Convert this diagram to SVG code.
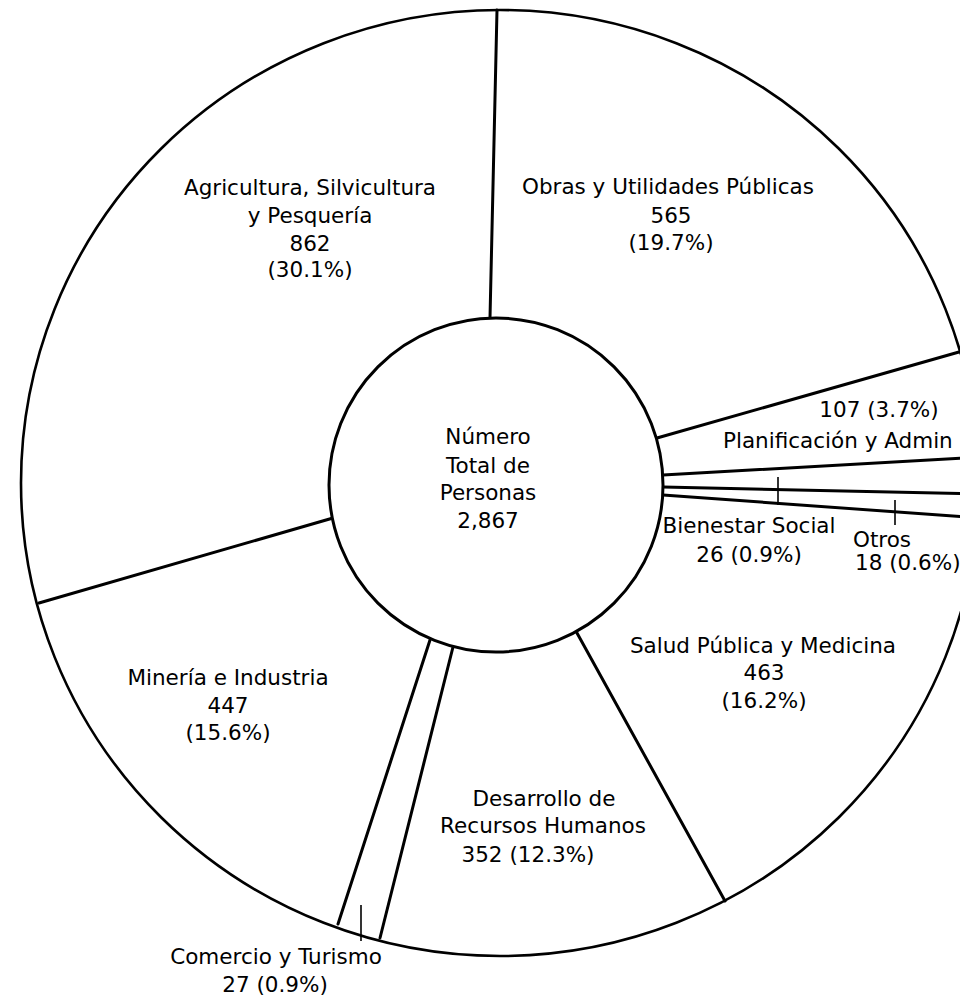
<svg xmlns="http://www.w3.org/2000/svg" width="960" height="1002" viewBox="0 0 960 1002">
<style>
.ln{stroke:#000;stroke-width:3;fill:none;stroke-linecap:round}
.tk{stroke:#000;stroke-width:1.6;fill:none}
.t{font-family:"DejaVu Sans","Liberation Sans",sans-serif;font-size:21.5px;fill:#000}
.c{text-anchor:middle}
</style>
<rect width="960" height="1002" fill="#fff"/>
<g id="outer-ring">
<ellipse cx="500" cy="483" rx="479" ry="473" fill="none" stroke="#000" stroke-width="2.6"/>
</g>
<g id="connectors">
<line class="ln" x1="497" y1="10" x2="490" y2="318"/>
<line class="ln" x1="657" y1="438" x2="959" y2="352"/>
<line class="ln" x1="663" y1="475" x2="980" y2="457"/>
<line class="ln" x1="663" y1="487" x2="980" y2="494"/>
<line class="ln" x1="663" y1="495" x2="980" y2="518"/>
<line class="ln" x1="577" y1="633" x2="725" y2="901"/>
<line class="ln" x1="453" y1="647" x2="380" y2="938"/>
<line class="ln" x1="430" y1="640" x2="338" y2="924"/>
<line class="ln" x1="333" y1="518" x2="39" y2="603"/>
<line class="tk" x1="778" y1="477" x2="778" y2="505"/>
<line class="tk" x1="895" y1="500" x2="895" y2="525"/>
<line class="tk" x1="361" y1="905" x2="361" y2="941"/>
</g>
<g id="center">
<circle cx="496" cy="485" r="167" fill="#fff" stroke="#000" stroke-width="3"/>
<text class="t c" x="488" y="444">Número</text>
<text class="t c" x="488" y="473">Total de</text>
<text class="t c" x="488" y="500">Personas</text>
<text class="t c" x="488" y="528">2,867</text>
</g>
<g id="agricultura">
<text class="t c" x="310" y="195">Agricultura, Silvicultura</text>
<text class="t c" x="310" y="223">y Pesquería</text>
<text class="t c" x="310" y="251">862</text>
<text class="t c" x="310" y="277">(30.1%)</text>
</g>
<g id="obras">
<text class="t c" x="668" y="194">Obras y Utilidades Públicas</text>
<text class="t c" x="671" y="223">565</text>
<text class="t c" x="671" y="250">(19.7%)</text>
</g>
<g id="planificacion">
<text class="t c" x="879" y="417">107 (3.7%)</text>
<text class="t" x="723" y="448">Planificación y Admin</text>
</g>
<g id="bienestar">
<text class="t c" x="749" y="533">Bienestar Social</text>
<text class="t c" x="749" y="562">26 (0.9%)</text>
</g>
<g id="otros">
<text class="t" x="853" y="547">Otros</text>
<text class="t" x="855" y="570">18 (0.6%)</text>
</g>
<g id="salud">
<text class="t c" x="763" y="653">Salud Pública y Medicina</text>
<text class="t c" x="764" y="680">463</text>
<text class="t c" x="764" y="708">(16.2%)</text>
</g>
<g id="desarrollo">
<text class="t c" x="544" y="806">Desarrollo de</text>
<text class="t c" x="543" y="833">Recursos Humanos</text>
<text class="t c" x="528" y="862">352 (12.3%)</text>
</g>
<g id="comercio">
<text class="t c" x="276" y="964">Comercio y Turismo</text>
<text class="t c" x="275" y="992">27 (0.9%)</text>
</g>
<g id="mineria">
<text class="t c" x="228" y="685">Minería e Industria</text>
<text class="t c" x="228" y="713">447</text>
<text class="t c" x="228" y="740">(15.6%)</text>
</g>
</svg>
